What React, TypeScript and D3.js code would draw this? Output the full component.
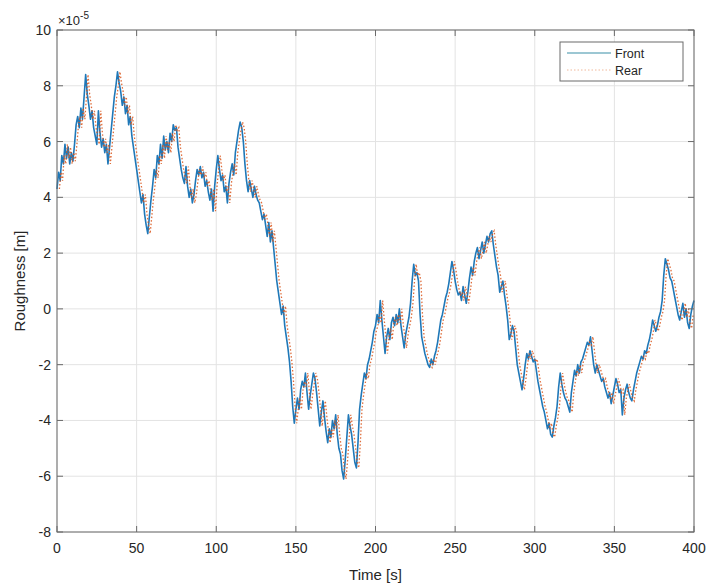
import React from 'react';
import * as d3 from 'd3';

// Road roughness seen by the front wheel, sampled once per second (x1e-5 m)
const FRONT: number[] = [
  4.3, 4.9, 4.6, 5.5, 5.2, 5.9, 5.4, 5.8, 5.2, 5.6,
  5.3, 5.9, 6.6, 6.9, 6.5, 7.2, 6.8, 7.6, 8.4, 7.7,
  7.3, 6.8, 7.1, 6.5, 6.2, 5.9, 7.1, 6.3, 5.8, 6.1,
  5.6, 5.9, 5.2, 5.8, 6.4, 7.0, 7.6, 8.0, 8.5, 8.1,
  7.8, 7.3, 7.6, 7.0, 7.3, 6.6, 6.9, 6.2, 5.8, 5.4,
  5.0, 4.6, 4.2, 3.8, 4.1, 3.4, 3.0, 2.7, 3.3, 3.9,
  4.4, 5.0, 4.7, 5.5, 5.2, 5.9, 5.4, 6.2, 5.7, 6.0,
  5.6, 6.3, 6.0, 6.6, 6.4, 6.5, 5.8, 5.4, 5.0, 4.7,
  4.5, 5.1, 4.4, 4.0, 4.3, 3.8, 4.1, 4.6, 5.0, 4.8,
  5.1, 4.7, 4.9, 4.4, 4.6, 4.2, 3.9, 4.3, 3.5, 4.4,
  5.0, 5.5, 5.0, 4.6, 4.8, 4.2, 4.4, 3.8, 4.5, 4.9,
  5.2, 4.8, 5.6, 6.0, 6.4, 6.7, 6.5, 6.0, 5.2, 4.6,
  4.2, 4.6, 4.3, 4.0, 4.4, 4.1, 3.9, 3.8, 3.5, 3.2,
  3.4, 3.0, 2.6, 3.1, 2.4, 2.8, 2.2, 1.6, 1.0, 0.6,
  0.2, -0.2, 0.1, -0.6, -1.0, -1.4, -1.9, -2.6, -3.5, -4.1,
  -3.6, -3.2, -3.6, -2.9, -2.6, -2.8, -2.3, -3.0, -3.6, -3.1,
  -2.7, -2.3, -2.5, -3.0, -3.6, -4.2, -3.7, -3.3, -3.9, -4.4,
  -4.8, -4.3, -4.6, -4.0, -4.3, -3.8, -4.5, -5.0, -5.2, -5.8,
  -6.1, -5.4, -4.6, -3.8, -4.2, -4.5, -5.0, -5.5, -5.7, -4.8,
  -3.6, -3.1, -2.7, -2.3, -2.5, -2.0, -1.8, -1.5, -1.2, -0.8,
  -0.6, -0.2, -0.5, 0.3, -0.4, -1.0, -1.6, -1.0, -0.7, -1.1,
  -0.5, -0.3, -0.6, -0.2, -0.5, 0.0, -0.6, -1.0, -1.4, -0.9,
  -0.6, -0.3, 0.2, 1.0, 1.6, 1.2, 1.3, 1.0, -0.2, -1.0,
  -1.3, -1.6, -1.8, -2.0, -2.1, -1.8, -2.0, -1.7, -1.5, -1.2,
  -0.8, -0.4, -0.2, 0.1, 0.4, 0.6, 0.9, 1.3, 1.7, 1.4,
  1.0, 0.7, 0.5, 0.6, 0.3, 0.8, 0.5, 0.2, 0.6, 1.1,
  1.5, 1.2, 1.7, 2.0, 2.2, 1.8, 2.1, 2.4, 2.0, 2.3,
  2.6, 2.4, 2.7, 2.8, 2.3, 1.9, 1.5, 1.2, 0.6, 0.8,
  1.0, 0.5, 0.1, -0.4, -1.1, -0.9, -0.6, -0.8, -1.4, -2.0,
  -2.3, -2.6, -2.9, -2.5, -2.0, -1.6, -1.8, -1.5, -1.7, -1.9,
  -1.8, -2.2, -2.6, -2.9, -3.2, -3.5, -3.7, -4.0, -4.3, -4.1,
  -4.5, -4.6, -4.2, -3.9, -3.5, -2.8, -2.3, -2.7, -3.0, -3.2,
  -3.3, -3.5, -3.7, -3.0, -2.6, -2.2, -2.4, -2.0, -2.3, -1.9,
  -1.8, -1.6, -1.4, -1.2, -1.3, -1.0, -1.5, -2.0, -2.3, -2.0,
  -2.2, -2.4, -2.6, -2.5, -2.8, -3.0, -3.2, -3.0, -3.4, -3.1,
  -2.8, -2.5, -2.7, -3.0, -2.9, -3.8, -3.2, -2.9, -2.7, -3.0,
  -3.2, -3.3, -2.9, -2.6, -2.3, -2.1, -1.9, -1.7, -1.8, -1.5,
  -1.6, -1.3, -1.1, -0.8, -0.4, -0.6, -0.8, -0.6, -0.3, -0.1,
  0.3, 1.2, 1.8, 1.6, 1.4, 1.1, 1.0, 0.7, 0.4, 0.1,
  -0.2, -0.4, -0.1, 0.2, -0.3, 0.0, -0.5, -0.7, -0.2, 0.1,
  0.3,
];

// rear wheel sees the same profile a little later (s)
const REAR_LAG = 1.5;
const SAMPLE_DT = 1;

const X_TICKS = [0, 50, 100, 150, 200, 250, 300, 350, 400];
const Y_TICKS = [-8, -6, -4, -2, 0, 2, 4, 6, 8, 10];
const SERIES_NAMES = ['Front', 'Rear'];

const W = 707, H = 585;
const M = { left: 57, right: 13, top: 30, bottom: 53 };
const FONT = '"Liberation Sans", Arial, sans-serif';
const AX = '#6a6a6a';
const TXT = '#262626';
const BLUE = '#1f78b8';
const ORANGE = '#D95319';

export default function App() {
  const x = d3.scaleLinear().domain([0, 400]).range([M.left, W - M.right]);
  const y = d3.scaleLinear().domain([-8, 10]).range([H - M.bottom, M.top]);

  const front = FRONT.map((v, i) => [i * SAMPLE_DT, v] as [number, number]);
  const rear = FRONT.map((v, i) => [i * SAMPLE_DT + REAR_LAG, v] as [number, number])
    .filter((d) => d[0] <= 400);

  const line = d3.line<[number, number]>().x((d) => x(d[0])).y((d) => y(d[1]));

  const x0 = x(0), x1 = x(400), y0 = y(-8), y1 = y(10);
  const tk = 6;

  return (
    <div style={{ position: 'absolute', left: 0, top: 0 }}>
      <svg width={W} height={H} style={{ display: 'block', background: '#fff' }} fontFamily={FONT}>
        {/* grid */}
        {X_TICKS.map((t) => (
          <line key={'gx' + t} x1={x(t)} x2={x(t)} y1={y1} y2={y0} stroke="#e3e3e3" strokeWidth={1} />
        ))}
        {Y_TICKS.map((t) => (
          <line key={'gy' + t} x1={x0} x2={x1} y1={y(t)} y2={y(t)} stroke="#e3e3e3" strokeWidth={1} />
        ))}

        {/* series */}
        <path d={line(front) ?? ''} fill="none" stroke={BLUE} strokeWidth={1.6} strokeLinejoin="round" />
        <path d={line(rear) ?? ''} fill="none" stroke={ORANGE} strokeWidth={1.3} strokeDasharray="1.5,2" strokeOpacity={0.85} />

        {/* box + ticks */}
        <rect x={x0} y={y1} width={x1 - x0} height={y0 - y1} fill="none" stroke={AX} strokeWidth={1} />
        {X_TICKS.map((t) => (
          <g key={'tx' + t}>
            <line x1={x(t)} x2={x(t)} y1={y0} y2={y0 - tk} stroke={AX} />
            <line x1={x(t)} x2={x(t)} y1={y1} y2={y1 + tk} stroke={AX} />
            <text x={x(t)} y={553} textAnchor="middle" fontSize={14} fill={TXT}>{t}</text>
          </g>
        ))}
        {Y_TICKS.map((t) => (
          <g key={'ty' + t}>
            <line x1={x0} x2={x0 + tk} y1={y(t)} y2={y(t)} stroke={AX} />
            <line x1={x1} x2={x1 - tk} y1={y(t)} y2={y(t)} stroke={AX} />
            <text x={51} y={y(t) + 5} textAnchor="end" fontSize={14} fill={TXT}>{t}</text>
          </g>
        ))}

        {/* exponent */}
        <text x={58} y={25} fontSize={13} fill={TXT}>
          ×10<tspan dy={-6} fontSize={10}>-5</tspan>
        </text>

        {/* axis labels */}
        <text x={(x0 + x1) / 2} y={580} textAnchor="middle" fontSize={15} fill={TXT}>Time [s]</text>
        <text transform={`translate(25,${(y0 + y1) / 2}) rotate(-90)`} textAnchor="middle" fontSize={15} fill={TXT}>
          Roughness [m]
        </text>

        {/* legend */}
        <g>
          <rect x={560} y={42} width={123} height={39} fill="#fff" stroke={AX} strokeWidth={1} />
          <line x1={567} x2={611} y1={53} y2={53} stroke="#3a8fa8" strokeWidth={1.2} />
          <text x={615} y={57.5} fontSize={12.5} fill={TXT}>{SERIES_NAMES[0]}</text>
          <line x1={567} x2={611} y1={70} y2={70} stroke="#f0b89a" strokeWidth={1} strokeDasharray="1.5,2" />
          <text x={615} y={74.5} fontSize={12.5} fill={TXT}>{SERIES_NAMES[1]}</text>
        </g>
      </svg>
    </div>
  );
}
